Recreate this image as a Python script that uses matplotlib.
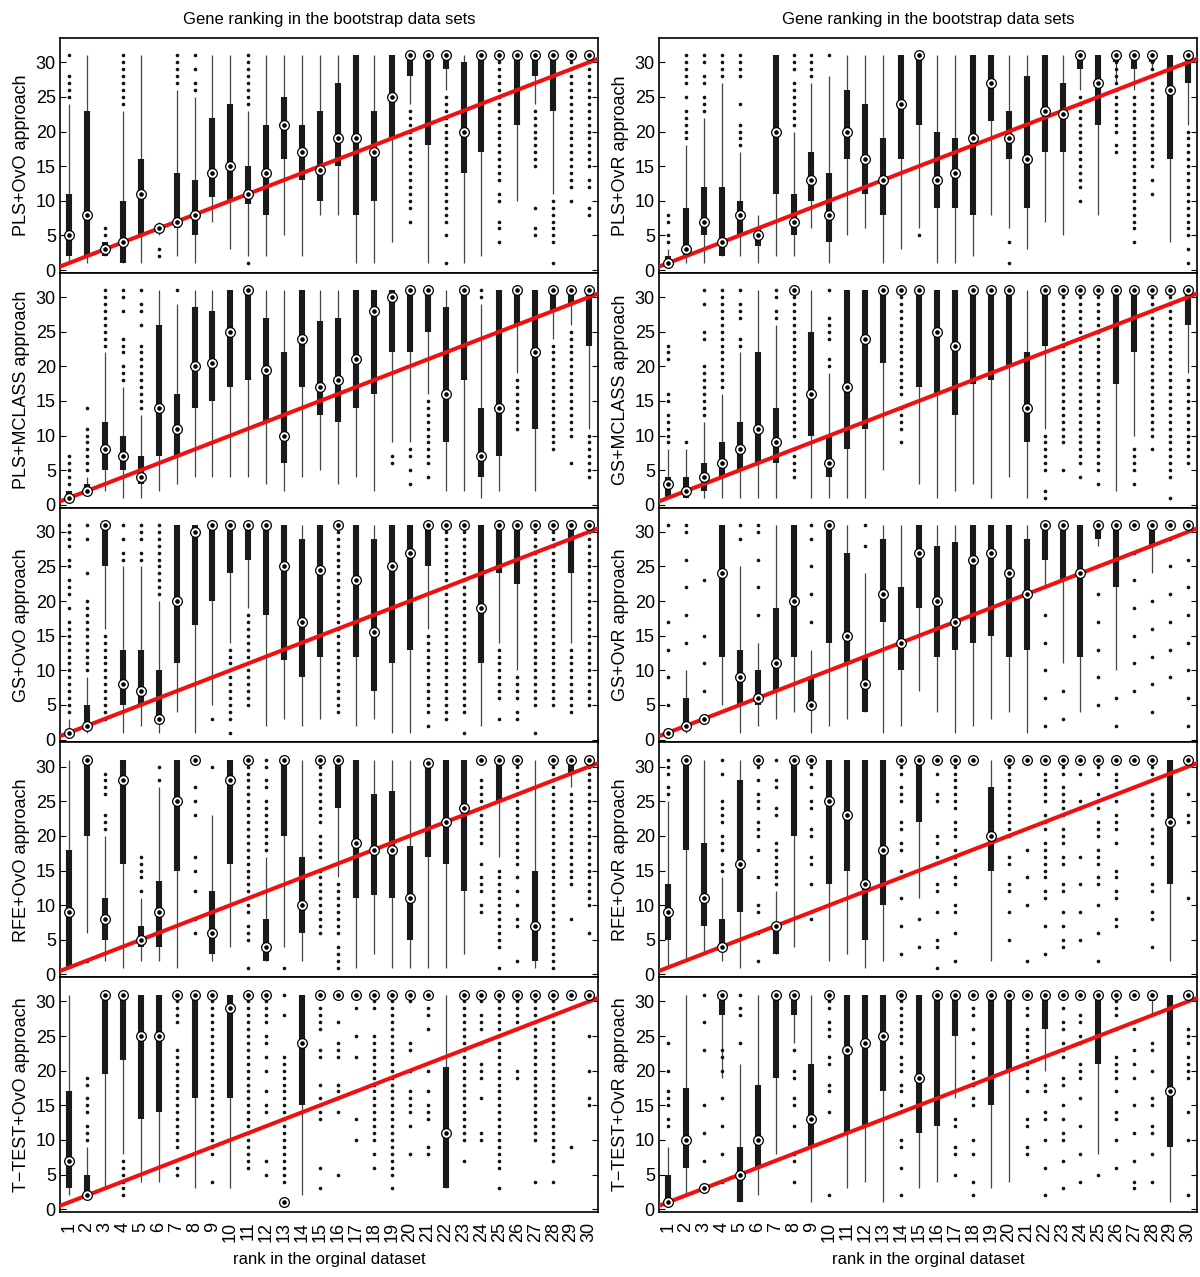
import numpy as np
import matplotlib
matplotlib.use("Agg")
import matplotlib.pyplot as plt

plt.rcParams['font.family'] = ['Liberation Sans', 'DejaVu Sans']

ranks = np.arange(1, 31)
panel_names = ["PLS+OvO approach", "PLS+OvR approach",
               "PLS+MCLASS approach", "GS+MCLASS approach",
               "GS+OvO approach", "GS+OvR approach",
               "RFE+OvO approach", "RFE+OvR approach",
               "T\u2212TEST+OvO approach", "T\u2212TEST+OvR approach"]

# ---- PLS+OvO ----
pls_ovo_med = [5, 8, 3, 4, 11, 6, 7, 8, 14, 15, 11, 14, 21, 17, 14.5, 19, 19, 17, 25, 31, 31, 31, 20, 31, 31, 31, 31, 31, 31, 31]
pls_ovo_q1 = [2, 2, 2, 1, 5, 5.3, 6, 5, 10.5, 10, 9.5, 8, 16, 13, 10, 15, 8, 10, 19, 28, 18, 29, 14, 17, 31, 21, 28, 23, 31, 31]
pls_ovo_q3 = [11, 23, 4, 10, 16, 6.5, 14, 13, 22, 24, 15, 21, 25, 21, 23, 27, 31, 23, 31, 31, 31, 31, 30, 31, 31, 31, 31, 31, 31, 31]
pls_ovo_wlo = [1, 1, 2, 1, 1, 5, 2, 1, 7, 3, 2, 2, 5, 2, 8, 8, 1, 1, 4, 24, 1, 26, 1, 2, 31, 10, 24, 11, 31, 31]
pls_ovo_whi = [24, 31, 4, 23, 31, 7, 26, 25, 31, 31, 23, 31, 31, 31, 31, 31, 31, 31, 31, 31, 31, 31, 31, 31, 31, 31, 31, 31, 31, 31]
pls_ovo_out = ["25-28,31", "", "5,6", "24-31", "", "2,3", "27-31", "26,27,29,31", "", "",
               "1,24-31", "", "", "", "", "", "", "", "", "7,9-23",
               "", "1,5,7-25", "", "", "4,6,7,10,11,13-30", "", "5,6,9,15-23", "1,4-10", "10,12-30", "8,9,12,13,15-30"]

# ---- PLS+OvR ----
pls_ovr_med = [1, 3, 7, 4, 8, 5, 20, 7, 13, 8, 20, 16, 13, 24, 31, 13, 14, 19, 27, 19, 16, 23, 22.5, 31, 27, 31, 31, 31, 26, 31]
pls_ovr_q1 = [1, 2, 5, 2, 5, 3.5, 11, 5, 10, 4, 16, 11, 8, 16, 21, 9, 9, 8, 21.5, 16, 9, 17, 17, 29, 21, 30, 29, 30, 16, 27]
pls_ovr_q3 = [2, 9, 12, 12, 10, 6, 31, 11, 17, 14, 26, 24, 19, 31, 31, 20, 19, 31, 31, 23, 28, 31, 27, 31, 31, 31, 31, 31, 31, 31]
pls_ovr_wlo = [1, 1, 1, 2, 2, 1, 2, 2, 6, 1, 5, 6, 1, 3, 6, 1, 1, 2, 8, 6, 3, 7, 5, 26, 8, 27, 26, 29, 4, 21]
pls_ovr_whi = [3, 18, 22, 27, 17, 8, 31, 20, 27, 28, 31, 31, 31, 31, 31, 31, 31, 31, 31, 31, 31, 31, 31, 31, 31, 31, 31, 31, 31, 31]
pls_ovr_out = ["4,5,7,8", "19-23,25,27-31", "23-25,27,28,30,31", "28-31", "18-21,24,28-31", "", "", "21-27,29-31", "28-31", "31",
               "", "", "", "", "5", "", "", "", "", "1,4",
               "", "", "", "10,12-25", "", "17,18,20-30", "4,6-25", "11,13,15-30", "", "1,3,5-20"]

# ---- PLS+MCLASS ----
pls_mc_med = [1, 2, 8, 7, 4, 14, 11, 20, 20.5, 25, 31, 19.5, 10, 24, 17, 18, 21, 28, 30, 31, 31, 16, 31, 7, 14, 31, 22, 31, 31, 31]
pls_mc_q1 = [1, 2, 5, 5, 3, 7, 7, 14, 15, 17, 18, 12, 6, 17, 13, 12, 14, 16, 22, 22, 25, 9, 18, 4, 7, 26, 11, 28, 29, 23]
pls_mc_q3 = [2, 3, 12, 10, 7, 26, 16, 28.5, 28, 31, 31, 27, 22, 31, 26.5, 27, 31, 31, 31, 31, 31, 28.5, 31, 14, 31, 31, 31, 31, 31, 31]
pls_mc_wlo = [1, 2, 2, 1, 1, 2, 3, 4, 4, 4, 4, 3, 2, 4, 5, 3, 4, 2, 9, 9, 16, 2, 2, 1, 2, 19, 2, 24, 26, 11]
pls_mc_whi = [2, 4, 22, 17, 13, 31, 29, 31, 31, 31, 31, 31, 31, 31, 31, 31, 31, 31, 31, 31, 31, 31, 31, 29, 31, 31, 31, 31, 31, 31]
pls_mc_out = ["3-7", "5-11,14", "23-31", "18-20,22-24,28,30,31", "14-23,26,28,29,31", "", "31", "", "", "",
              "", "", "", "", "", "", "", "", "6,7", "3,5,7,8",
              "4,6-15", "", "", "30,31", "", "11-18", "", "8-23", "6,10-25", "4-10"]

# ---- GS+MCLASS ----
gs_mc_med = [3, 2, 4, 6, 8, 11, 9, 31, 16, 6, 17, 24, 31, 31, 31, 25, 23, 31, 31, 31, 14, 31, 31, 31, 31, 31, 31, 31, 31, 31]
gs_mc_q1 = [1, 1, 2, 4, 5, 6, 6, 31, 10, 4, 8, 11, 20.5, 31, 17, 16, 13, 17.5, 18, 20, 9, 23, 31, 31, 31, 17.5, 22, 31, 31, 26]
gs_mc_q3 = [4, 4, 6, 9, 12, 22, 14, 31, 25, 10, 31, 31, 31, 31, 31, 31, 31, 31, 31, 31, 22, 31, 31, 31, 31, 31, 31, 31, 31, 31]
gs_mc_wlo = [1, 1, 1, 1, 1, 1, 1, 31, 1, 1, 1, 1, 5, 31, 3, 1, 2, 3, 1, 4, 1, 11, 31, 31, 31, 2, 10, 31, 31, 19]
gs_mc_whi = [8, 8, 12, 16, 22, 31, 26, 31, 31, 19, 31, 31, 31, 31, 31, 31, 31, 31, 31, 31, 31, 31, 31, 31, 31, 31, 31, 31, 31, 31]
gs_mc_out = ["9-13,15,16,21-23", "9", "13-20,24,25,29,31", "17-31", "23,24,27-29,31", "", "27,28,30,31", "4-8,10-30", "", "20,21,24-27,31",
             "", "", "", "9,11-14,16-30", "", "", "", "", "", "",
             "", "1,2,5-10", "5,9-30", "4,6-30", "3,5-30", "", "3,5-8", "8,10-30", "1,4-30", "6-18"]

# ---- GS+OvO ----
gs_ovo_med = [1, 2, 31, 8, 7, 3, 20, 30, 31, 31, 31, 31, 25, 17, 24.5, 31, 23, 15.5, 25, 27, 31, 31, 31, 19, 31, 31, 31, 31, 31, 31]
gs_ovo_q1 = [1, 2, 25, 5, 5, 3, 11, 16.5, 20, 24, 26, 18, 11.5, 9, 12, 31, 12, 7, 11, 13, 25, 31, 31, 11, 24, 22.5, 31, 31, 24, 31]
gs_ovo_q3 = [1, 5, 31, 13, 13, 10, 31, 31, 31, 31, 31, 31, 31, 29, 31, 31, 31, 29, 31, 31, 31, 31, 31, 31, 31, 31, 31, 31, 31, 31]
gs_ovo_wlo = [1, 1, 16, 1, 2, 1, 4, 1, 5, 14, 19, 2, 3, 2, 3, 31, 2, 3, 1, 1, 16, 31, 31, 2, 14, 10, 31, 31, 14, 31]
gs_ovo_whi = [3, 9, 31, 25, 25, 20, 31, 31, 31, 31, 31, 31, 31, 31, 31, 31, 31, 31, 31, 31, 31, 31, 31, 31, 31, 31, 31, 31, 31, 31]
gs_ovo_out = ["4-17,19,21-23,25,26,28-31", "10-20,24,29,31", "3-15", "26,27,29,31", "26,27,29-31", "21-31", "", "", "3", "1,3-13",
              "5-18", "", "", "", "", "4-30", "", "", "", "",
              "2,4-15", "3-30", "1,4-30", "", "3,6-13", "3,4,6-9", "1,5-30", "5-30", "4-13", "5-30"]

# ---- GS+OvR ----
gs_ovr_med = [1, 2, 3, 24, 9, 6, 11, 20, 5, 31, 15, 8, 21, 14, 27, 20, 17, 26, 27, 24, 21, 31, 31, 24, 31, 31, 31, 31, 31, 31]
gs_ovr_q1 = [1, 2, 3, 12, 5, 5, 7, 12, 5, 14, 11, 4, 17, 10, 19, 12, 13, 14, 15, 12, 13, 26, 23, 12, 29, 22, 31, 28, 31, 31]
gs_ovr_q3 = [1, 6, 3, 31, 13, 10, 19, 31, 9, 31, 27, 12, 29, 22, 31, 28, 28.5, 31, 31, 31, 29, 31, 31, 31, 31, 31, 31, 31, 31, 31]
gs_ovr_wlo = [1, 1, 3, 5, 1, 2, 3, 4, 1, 2, 3, 4, 1, 2, 7, 4, 1, 2, 3, 4, 1, 22, 11, 4, 28, 10, 31, 24, 31, 31]
gs_ovr_whi = [1, 10, 3, 31, 25, 14, 31, 31, 13, 31, 31, 24, 31, 31, 31, 31, 31, 31, 31, 31, 31, 31, 31, 31, 31, 31, 31, 31, 31, 31]
gs_ovr_out = ["5,9,13,17,31", "14,18,22,26,30,31", "7,11,15,23", "", "29,31", "18,22,26,30,31", "", "", "17,21,25,29,31", "",
              "", "28,31", "", "", "", "", "", "", "", "",
              "", "2,6,10,14,18", "3,7", "", "5,9,13,17,21,25", "2,6", "7,11,15,19,23,27", "4,8,12,16,20", "9,13,17,21,25,29", "2,6,10,14,18,22,26"]

# ---- RFE+OvO ----
rfe_ovo_med = [9, 31, 8, 28, 5, 9, 25, 31, 6, 28, 31, 4, 31, 10, 31, 31, 19, 18, 18, 11, 30.5, 22, 24, 31, 31, 31, 7, 31, 31, 31]
rfe_ovo_q1 = [1, 20, 5, 16, 4, 4, 15, 31, 3, 16, 31, 2, 20, 6, 31, 24, 11, 11.5, 11, 5, 17, 16, 12, 31, 25, 31, 2, 31, 29, 31]
rfe_ovo_q3 = [18, 31, 11, 31, 7, 13.5, 31, 31, 12, 31, 31, 8, 31, 17, 31, 31, 31, 26, 26.5, 18.5, 31, 31, 31, 31, 31, 31, 15, 31, 31, 31]
rfe_ovo_wlo = [1, 6, 2, 1, 2, 2, 1, 31, 2, 4, 31, 2, 4, 2, 31, 14, 1, 3, 1, 1, 1, 1, 3, 31, 17, 31, 1, 31, 27, 31]
rfe_ovo_whi = [31, 31, 20, 31, 11, 27, 31, 31, 23, 31, 31, 17, 31, 31, 31, 31, 31, 31, 31, 31, 31, 31, 31, 31, 31, 31, 31, 31, 31, 31]
rfe_ovo_out = ["", "2", "21-23,26-29", "", "12,14-17", "28,30", "", "6,8,12,15,17,23,25,27", "30", "",
               "1,5-7,9-30", "18-25,27,28,30,31", "1", "", "6-15,17-20,22-30", "1-4,6-13", "", "", "", "",
               "", "", "", "9,10,12-14,16,19-28", "1,4-15", "2,7,8,10,12,14,16-30", "", "1-30", "8,13-26", "6,10-30"]

# ---- RFE+OvR ----
rfe_ovr_med = [9, 31, 11, 4, 16, 31, 7, 31, 31, 25, 23, 13, 18, 31, 31, 31, 31, 31, 20, 31, 31, 31, 31, 31, 31, 31, 31, 31, 22, 31]
rfe_ovr_q1 = [5, 18, 7, 4, 9, 31, 3, 20, 31, 13, 15, 5, 10, 31, 22, 31, 31, 31, 15, 31, 31, 31, 31, 31, 31, 31, 31, 31, 13, 31]
rfe_ovr_q3 = [13, 31, 19, 8, 28, 31, 7, 31, 31, 31, 31, 31, 31, 31, 31, 31, 31, 31, 27, 31, 31, 31, 31, 31, 31, 31, 31, 31, 31, 31]
rfe_ovr_wlo = [1, 2, 3, 2, 1, 31, 3, 4, 31, 2, 3, 1, 2, 31, 11, 31, 31, 31, 2, 31, 31, 31, 31, 31, 31, 31, 31, 31, 2, 31]
rfe_ovr_whi = [25, 31, 31, 14, 31, 31, 12, 31, 31, 31, 31, 31, 31, 31, 31, 31, 31, 31, 31, 31, 31, 31, 31, 31, 31, 31, 31, 31, 31, 31]
rfe_ovr_out = ["26,27,29-31", "", "", "15,16,18-20,22-25,29,31", "", "2,6,9,10,14,18,20-22,24-26,28,30", "13-19,23,24,27,28,31", "", "8,9,13,16,17,20,21,24,25,27,29,30", "",
               "", "", "", "3,7,11,14,15,18,19,21,22,25-27,29,30", "4,8", "1,4,5,9,12,13,17,19,20,25,26,29", "2,6,9,10,13,14,16-18,20-22,24-30", "", "", "5,9,12,13,16,17,20-30",
               "2,10,14,18", "3,7,11,12,14-19,21-23,25-29", "4,5,7,9,12,13,16,17,19-21,23-27,29,30", "5,9,13,17,24,25,29", "2,6,10,13,14,16-18,20-22,24-26,29,30", "7,8,11,12,14,15,19,21-23,25-29", "27", "4,8,9,12,13,16,17,19-21,23-26,28-30", "", "11,22,23,26"]

# ---- T-TEST+OvO ----
tt_ovo_med = [7, 2, 31, 31, 25, 25, 31, 31, 31, 29, 31, 31, 1, 24, 31, 31, 31, 31, 31, 31, 31, 11, 31, 31, 31, 31, 31, 31, 31, 31]
tt_ovo_q1 = [3, 2, 19.5, 21.5, 13, 14, 31, 16, 31, 16, 31, 31, 1, 15, 31, 31, 31, 31, 31, 31, 31, 3, 31, 31, 31, 31, 31, 31, 31, 31]
tt_ovo_q3 = [17, 5, 31, 31, 31, 31, 31, 31, 31, 31, 31, 31, 1, 31, 31, 31, 31, 31, 31, 31, 31, 20.5, 31, 31, 31, 31, 31, 31, 31, 31]
tt_ovo_wlo = [2, 2, 3, 8, 4, 4, 31, 3, 31, 3, 31, 31, 1, 2, 31, 31, 31, 31, 31, 31, 31, 3, 31, 31, 31, 31, 31, 31, 31, 31]
tt_ovo_whi = [31, 9, 31, 31, 31, 31, 31, 31, 31, 31, 31, 31, 1, 31, 31, 31, 31, 31, 31, 31, 31, 31, 31, 31, 31, 31, 31, 31, 31, 31]
tt_ovo_out = ["", "10-12,14-16,18,19", "", "2-7", "", "", "5,6,9-23,27-30", "", "4,8-30", "",
              "6-30", "5,7,14,15,17,20,22,24,25,27-30", "4-22,28,31", "", "3,6,13-16,18,22,23,26-29", "5,14,16-18,22-24,27", "10,13,17,22,25,29", "6,8,10-25,29,30", "3,5-30", "8,12,14-17,20,23,24,30",
              "8,9,13-15,17,20,26,28,29", "", "7,10-30", "10,11,16,19-21,24,26-28,30", "3,6-30", "19,20,26-30", "4,10-30", "4,7-30", "9", "15,16,20,25,30"]

# ---- T-TEST+OvR ----
tt_ovr_med = [1, 10, 3, 31, 5, 10, 31, 31, 13, 31, 23, 24, 25, 31, 19, 31, 31, 31, 31, 31, 31, 31, 31, 31, 31, 31, 31, 31, 17, 31]
tt_ovr_q1 = [1, 6, 3, 28, 1, 6, 19, 28, 9, 31, 11, 12, 17, 31, 11, 12, 25, 31, 15, 20, 31, 26, 31, 31, 21, 31, 31, 30, 9, 31]
tt_ovr_q3 = [5, 17.5, 3, 31, 9, 18, 31, 31, 21, 31, 31, 31, 31, 31, 31, 31, 31, 31, 31, 31, 31, 31, 31, 31, 31, 31, 31, 31, 31, 31]
tt_ovr_wlo = [1, 2, 3, 19, 1, 2, 8, 24, 1, 31, 3, 4, 1, 31, 3, 4, 16, 31, 3, 4, 31, 20, 31, 31, 8, 31, 31, 28, 1, 31]
tt_ovr_whi = [9, 31, 3, 31, 21, 31, 31, 31, 31, 31, 31, 31, 31, 31, 31, 31, 31, 31, 31, 31, 31, 31, 31, 31, 31, 31, 31, 31, 31, 31]
tt_ovr_out = ["12,13,15-17,20,24", "", "7,11,15,23,27,31", "4,8,12,16,20,22,23", "24,28,29,31", "", "", "4,7,8,12,15,16,19,20,23", "", "2,10,14,17,18,21,22,25-27,29,30",
              "", "", "", "2,6,9,10,14,15,17,18,20-22,24-30", "", "", "5,8,9,12,13", "2,4,8,10,15,16,18-20,22,24,26,28,29", "", "",
              "8,9,12,13,17,19-26,28,29", "2,6,10,13,14,17,18", "3,7,10,11,13,15,18,19,22-24,26,27,29", "4,8,12,16,19-21,24,25,27,28", "5", "6,10,13,14,17,19-22,26,28-30", "3,4,7,11,15,19,21,23,26,27", "4,8,11,12,15,16,20,23,24", "", "2,10,14,19-22,24-26,30"]

panels = [
    (pls_ovo_med, pls_ovo_q1, pls_ovo_q3, pls_ovo_wlo, pls_ovo_whi, pls_ovo_out),
    (pls_ovr_med, pls_ovr_q1, pls_ovr_q3, pls_ovr_wlo, pls_ovr_whi, pls_ovr_out),
    (pls_mc_med, pls_mc_q1, pls_mc_q3, pls_mc_wlo, pls_mc_whi, pls_mc_out),
    (gs_mc_med, gs_mc_q1, gs_mc_q3, gs_mc_wlo, gs_mc_whi, gs_mc_out),
    (gs_ovo_med, gs_ovo_q1, gs_ovo_q3, gs_ovo_wlo, gs_ovo_whi, gs_ovo_out),
    (gs_ovr_med, gs_ovr_q1, gs_ovr_q3, gs_ovr_wlo, gs_ovr_whi, gs_ovr_out),
    (rfe_ovo_med, rfe_ovo_q1, rfe_ovo_q3, rfe_ovo_wlo, rfe_ovo_whi, rfe_ovo_out),
    (rfe_ovr_med, rfe_ovr_q1, rfe_ovr_q3, rfe_ovr_wlo, rfe_ovr_whi, rfe_ovr_out),
    (tt_ovo_med, tt_ovo_q1, tt_ovo_q3, tt_ovo_wlo, tt_ovo_whi, tt_ovo_out),
    (tt_ovr_med, tt_ovr_q1, tt_ovr_q3, tt_ovr_wlo, tt_ovr_whi, tt_ovr_out),
]


def parse_values(s):
    # "4,6-8" -> [4, 6, 7, 8]
    vals = []
    for part in s.split(","):
        part = part.strip()
        if not part:
            continue
        if "-" in part:
            a, b = part.split("-")
            vals.extend(range(int(a), int(b) + 1))
        else:
            vals.append(float(part))
    return vals


def draw_panel(ax, med, q1, q3, wlo, whi, out):
    ax.vlines(ranks, wlo, whi, color='#444444', linewidth=0.9, zorder=2)
    ax.vlines(ranks, q1, q3, color='#1a1a1a', linewidth=4.4, zorder=3)
    for r, s in zip(ranks, out):
        vals = parse_values(s)
        if vals:
            ax.plot([r] * len(vals), vals, 'o', color='#111111', markersize=2.6,
                    markeredgewidth=0, zorder=3)
    ax.plot([0.5, 30.5], [0.5, 30.5], color='#ee1111', linewidth=2.9, zorder=4)
    ax.plot(ranks, med, 'o', markerfacecolor='white', markeredgecolor='black',
            markersize=7.0, markeredgewidth=0.9, zorder=5)
    ax.plot(ranks, med, 'o', color='black', markersize=2.3, zorder=6)


fig = plt.figure(figsize=(12, 12.77), dpi=100)
W, H = 1200.0, 1277.0
col_left = [60, 659]
col_width = 538
row_top = 38
row_h = 234.8

axes = []
for k, (data, name) in enumerate(zip(panels, panel_names)):
    row, col = divmod(k, 2)
    bottom = H - (row_top + (row + 1) * row_h)
    ax = fig.add_axes([col_left[col] / W, bottom / H, col_width / W, row_h / H])
    draw_panel(ax, *data)
    ax.set_xlim(0.5, 30.5)
    ax.set_ylim(-0.4, 33.5)
    ax.set_yticks([0, 5, 10, 15, 20, 25, 30])
    ax.set_xticks(ranks)
    ax.tick_params(axis='y', direction='in', right=True, length=4, labelsize=13, pad=3)
    ax.tick_params(axis='x', direction='in', length=0, labelsize=13, pad=7)
    ax.set_ylabel(name, fontsize=13, labelpad=4)
    for sp in ax.spines.values():
        sp.set_linewidth(1.2)
    if row == 4:
        ax.set_xticklabels([str(r) for r in ranks], rotation=90)
        ax.set_xlabel("rank in the orginal dataset", fontsize=12, labelpad=7)
    else:
        ax.set_xticklabels([])
    if row == 0:
        ax.set_title("Gene ranking in the bootstrap data sets", fontsize=12, pad=10)
    axes.append(ax)

fig.savefig("out.png", dpi=100)
